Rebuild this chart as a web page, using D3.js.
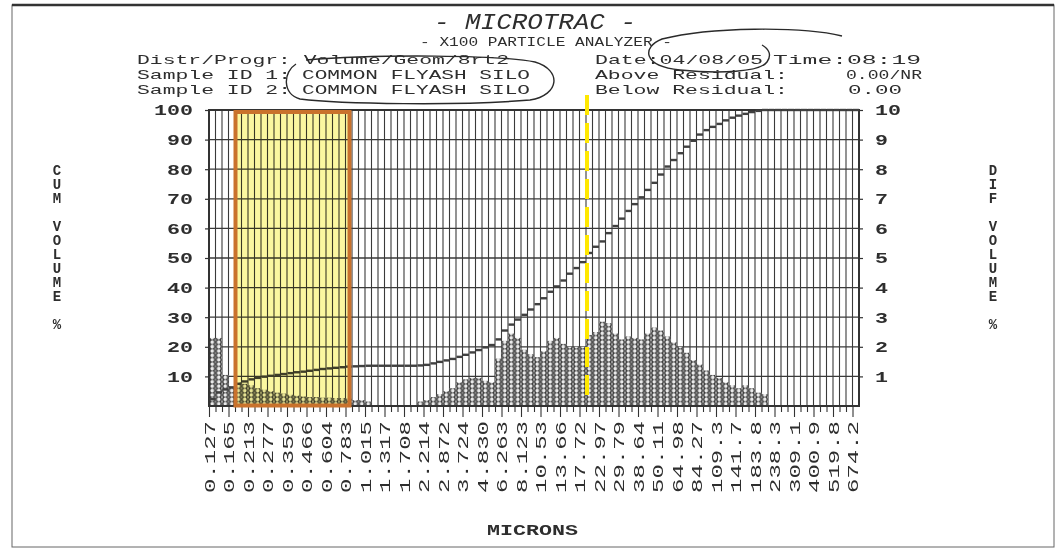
<!DOCTYPE html>
<html>
<head>
    <title>Microtrac X100 Particle Analyzer</title>
    <script src="https://d3js.org/d3.v7.min.js"></script>
    <style>
        body { margin: 0; background: #fff; }
        text { font-family: "Liberation Mono", "DejaVu Sans Mono", monospace; fill: #2e2e2e; }
        .hdr { font-size: 13.5px; }
        .tick text { font-size: 15px; }
        .vtitle { writing-mode: vertical-rl; text-orientation: upright; font-size: 14px; font-weight: bold; letter-spacing: -2px; }
    </style>
</head>
<body>
<svg width="1058" height="550"></svg>
<script>
    // size labels printed under every third channel (microns)
    var xLabels = ["0.127", "0.165", "0.213", "0.277", "0.359", "0.466", "0.604", "0.783",
        "1.015", "1.317", "1.708", "2.214", "2.872", "3.724", "4.830", "6.263", "8.123",
        "10.53", "13.66", "17.72", "22.97", "29.79", "38.64", "50.11", "64.98", "84.27",
        "109.3", "141.7", "183.8", "238.3", "309.1", "400.9", "519.8", "674.2"];

    // differential volume %, one value per channel (100 channels)
    var difVolume = [
        2.3, 2.3, 1.05, 0.65, 0.8, 0.75, 0.7, 0.6, 0.55, 0.5,
        0.45, 0.42, 0.38, 0.35, 0.32, 0.3, 0.3, 0.28, 0.28, 0.27,
        0.27, 0.25, 0.2, 0.2, 0.15, 0, 0, 0, 0, 0,
        0, 0, 0.15, 0.2, 0.3, 0.4, 0.5, 0.6, 0.8, 0.9,
        0.95, 0.95, 0.85, 0.8, 1.6, 2.2, 2.45, 2.3, 1.9, 1.75,
        1.65, 1.85, 2.2, 2.3, 2.1, 2.0, 2.0, 2.0, 2.4, 2.5,
        2.85, 2.8, 2.45, 2.25, 2.35, 2.3, 2.25, 2.45, 2.65, 2.55,
        2.35, 2.15, 2.0, 1.8, 1.55, 1.4, 1.2, 1.05, 0.95, 0.8,
        0.7, 0.6, 0.7, 0.6, 0.45, 0.4, 0, 0, 0, 0,
        0, 0, 0, 0, 0, 0, 0, 0, 0, 0];

    // cumulative volume %, one value per channel
    var cumVolume = [
        2.3, 4.6, 5.6, 6.3, 7.5, 8.3, 9.0, 9.5, 9.9, 10.2,
        10.5, 10.8, 11.1, 11.4, 11.6, 11.9, 12.2, 12.5, 12.7, 12.9,
        13.1, 13.3, 13.4, 13.5, 13.6, 13.6, 13.6, 13.6, 13.6, 13.6,
        13.6, 13.6, 13.7, 13.9, 14.4, 14.9, 15.4, 15.9, 16.6, 17.3,
        18.1, 18.9, 19.8, 20.6, 22.5, 25.5, 27.5, 29.2, 30.8, 32.6,
        34.4, 36.4, 38.6, 40.4, 42.4, 44.7, 46.6, 48.6, 51.7, 53.8,
        55.6, 58.4, 60.8, 63.3, 65.9, 68.2, 70.5, 73.0, 75.4, 78.2,
        80.9, 83.1, 85.4, 87.6, 89.6, 91.7, 93.2, 94.3, 95.3, 96.5,
        97.4, 98.1, 98.7, 99.3, 99.7, 100, 100, 100, 100, 100,
        100, 100, 100, 100, 100, 100, 100, 100, 100, 100];

    var cumTicks = [10, 20, 30, 40, 50, 60, 70, 80, 90, 100];
    var difTicks = [1, 2, 3, 4, 5, 6, 7, 8, 9, 10];

    var svg = d3.select("svg");

    var x = d3.scaleLinear().domain([0, 100]).range([209, 859]);   // channel index
    var yL = d3.scaleLinear().domain([0, 100]).range([406, 110]);
    var yR = d3.scaleLinear().domain([0, 10]).range([406, 110]);
    var bw = x(1) - x(0);

    // page border
    svg.append("rect").attr("x", 12).attr("y", 5).attr("width", 1042).attr("height", 542)
        .attr("fill", "none").attr("stroke", "#666").attr("stroke-width", 1);
    svg.append("line").attr("x1", 12).attr("x2", 1054).attr("y1", 5).attr("y2", 5)
        .attr("stroke", "#333").attr("stroke-width", 2.5);

    // dotted pattern used for the histogram columns
    var pat = svg.append("defs").append("pattern")
        .attr("id", "dots").attr("patternUnits", "userSpaceOnUse")
        .attr("x", x(0)).attr("y", yR(0)).attr("width", bw).attr("height", 4.4);
    pat.append("rect").attr("width", bw).attr("height", 4.4).attr("fill", "#eaeaea");
    pat.append("circle").attr("cx", bw / 2).attr("cy", 2.2).attr("r", 2.5)
        .attr("fill", "none").attr("stroke", "#353535").attr("stroke-width", 1.25);

    var plot = svg.append("g");

    // grid
    plot.selectAll(".hgrid").data([10, 20, 30, 40, 50, 60, 70, 80, 90])
        .enter().append("line")
        .attr("x1", x(0)).attr("x2", x(100))
        .attr("y1", d => yL(d)).attr("y2", d => yL(d))
        .attr("stroke", "#3a3a3a").attr("stroke-width", 1.3);
    plot.selectAll(".vgrid").data(d3.range(1, 100))
        .enter().append("line")
        .attr("x1", d => x(d)).attr("x2", d => x(d))
        .attr("y1", yL(0)).attr("y2", yL(100))
        .attr("stroke", "#3a3a3a").attr("stroke-width", 1.1);

    // histogram
    plot.selectAll(".bar").data(difVolume)
        .enter().append("rect")
        .attr("x", (d, i) => x(i))
        .attr("width", bw)
        .attr("y", d => yR(d))
        .attr("height", d => yR(0) - yR(d))
        .attr("fill", "url(#dots)");

    // frame
    plot.append("rect")
        .attr("x", x(0)).attr("y", yL(100))
        .attr("width", x(100) - x(0)).attr("height", yL(0) - yL(100))
        .attr("fill", "none").attr("stroke", "#333").attr("stroke-width", 2);

    // cumulative curve, one short dash per channel
    plot.selectAll(".cum").data(cumVolume)
        .enter().append("rect")
        .attr("x", (d, i) => x(i) + 0.5)
        .attr("width", bw - 0.5)
        .attr("y", d => yL(d) - 1.2)
        .attr("height", 2.4)
        .attr("fill", "#404040");

    // axes
    var axL = svg.append("g").attr("transform", "translate(" + x(0) + ",0)")
        .call(d3.axisLeft(yL).tickValues(cumTicks).tickSize(4).tickPadding(12));
    var axR = svg.append("g").attr("transform", "translate(" + x(100) + ",0)")
        .call(d3.axisRight(yR).tickValues(difTicks).tickSize(4).tickPadding(12));
    [axL, axR].forEach(function(ax) {
        ax.select(".domain").remove();
        ax.selectAll("line").attr("stroke", "#333").attr("stroke-width", 1.2);
        ax.selectAll("text").attr("font-weight", "bold").attr("fill", "#555")
            .attr("textLength", d => String(d).length * 13).attr("lengthAdjust", "spacingAndGlyphs");
    });

    var axB = svg.append("g").attr("transform", "translate(0," + yL(0) + ")")
        .call(d3.axisBottom(x).tickValues(d3.range(0, 100))
            .tickFormat(d => d % 3 === 0 ? xLabels[d / 3] : "").tickSize(6));
    axB.select(".domain").remove();
    axB.selectAll("line").attr("stroke", "#333").attr("stroke-width", 1.1)
        .attr("y2", d => d % 3 === 0 ? 11 : 6);
    axB.selectAll("text")
        .attr("transform", "rotate(-90)")
        .attr("text-anchor", "end")
        .attr("x", -15).attr("y", 0).attr("dy", "0.35em")
        .attr("fill", "#3a3a3a")
        .attr("font-size", "15px")
        .attr("textLength", d => d % 3 === 0 ? 72 : null)
        .attr("lengthAdjust", "spacingAndGlyphs");

    // highlighted size band: tinted fill, then its orange outline
    svg.append("rect")
        .attr("x", 235.5).attr("y", 112).attr("width", 114).attr("height", 293.5)
        .attr("fill", "#f8f266").attr("fill-opacity", 0.62)
        .style("mix-blend-mode", "multiply");
    svg.append("rect")
        .attr("x", 235.5).attr("y", 112).attr("width", 114).attr("height", 293.5)
        .attr("fill", "none")
        .attr("stroke", "#c9722c").attr("stroke-width", 4);

    // median marker
    svg.append("line")
        .attr("x1", 587).attr("x2", 587).attr("y1", 95).attr("y2", 402)
        .attr("stroke", "#ffe800").attr("stroke-width", 4)
        .attr("stroke-dasharray", "20,8");

    // header
    svg.append("text").attr("x", 434).attr("y", 29).attr("font-size", "22px")
        .attr("font-style", "italic").attr("textLength", 202).attr("lengthAdjust", "spacingAndGlyphs")
        .text("- MICROTRAC -");
    svg.append("text").attr("x", 420).attr("y", 46).attr("font-size", "13px")
        .attr("textLength", 252).attr("lengthAdjust", "spacingAndGlyphs")
        .text("- X100 PARTICLE ANALYZER -");

    var hdr = [
        {t: "Distr/Progr: Volume/Geom/8rt2", x: 137, y: 64, w: 372},
        {t: "Sample ID 1:", x: 137, y: 79, w: 154},
        {t: "COMMON FLYASH SILO", x: 302, y: 79, w: 228},
        {t: "Sample ID 2:", x: 137, y: 94, w: 154},
        {t: "COMMON FLYASH SILO", x: 302, y: 94, w: 228},
        {t: "Date:04/08/05", x: 595, y: 64, w: 168},
        {t: "Time:08:19", x: 773, y: 64, w: 148},
        {t: "Above Residual:", x: 595, y: 79, w: 193},
        {t: "0.00/NR", x: 846, y: 79, w: 76},
        {t: "Below Residual:", x: 595, y: 94, w: 193},
        {t: "0.00", x: 848, y: 94, w: 54}
    ];
    svg.selectAll(".hdr2").data(hdr).enter().append("text")
        .attr("class", "hdr")
        .attr("x", d => d.x).attr("y", d => d.y)
        .attr("textLength", d => d.w).attr("lengthAdjust", "spacingAndGlyphs")
        .text(d => d.t);

    // vertical axis titles, stacked letters
    svg.append("text").attr("class", "vtitle").attr("x", 57).attr("y", 163).attr("fill", "#444")
        .text("CUM VOLUME  %");
    svg.append("text").attr("class", "vtitle").attr("x", 993).attr("y", 163).attr("fill", "#444")
        .text("DIF VOLUME  %");

    svg.append("text").attr("x", 487).attr("y", 535)
        .attr("font-size", "14px").attr("font-weight", "bold").attr("fill", "#444")
        .attr("textLength", 91).attr("lengthAdjust", "spacingAndGlyphs")
        .text("MICRONS");

    // pen marks
    svg.append("path")
        .attr("d", "M 306 60 C 380 54, 500 55, 535 62 C 562 70, 560 95, 530 100 C 460 106, 340 104, 300 99 C 282 94, 283 72, 296 64")
        .attr("fill", "none").attr("stroke", "#2a2a2a").attr("stroke-width", 1.4);
    svg.append("path")
        .attr("d", "M 842 36 C 800 26, 710 27, 662 39 C 642 47, 642 66, 680 70 C 720 74, 760 72, 767 62 C 772 55, 769 49, 762 45")
        .attr("fill", "none").attr("stroke", "#2a2a2a").attr("stroke-width", 1.4);
</script>
</body>
</html>
